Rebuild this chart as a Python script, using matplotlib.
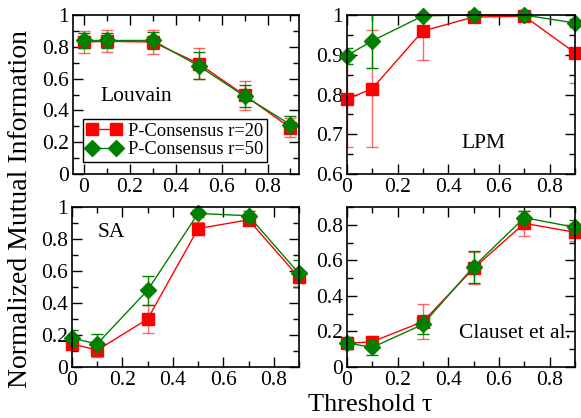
import matplotlib
matplotlib.use("Agg")
import matplotlib.pyplot as plt
from matplotlib.ticker import MultipleLocator, FormatStrFormatter

plt.rcParams['font.family'] = ['Liberation Serif', 'DejaVu Serif']

tau = [0, 0.1, 0.3, 0.5, 0.7, 0.9]

# Louvain
louv_r20 = [0.83, 0.835, 0.83, 0.695, 0.495, 0.29]
louv_r20_err = [0.07, 0.068, 0.075, 0.095, 0.09, 0.06]
louv_r50 = [0.84, 0.84, 0.84, 0.68, 0.49, 0.31]
louv_r50_err = [0.05, 0.05, 0.055, 0.085, 0.07, 0.055]

# LPM
lpm_r20 = [0.788, 0.815, 0.96, 0.995, 0.997, 0.905]
lpm_r20_err = [0.12, 0.148, 0.073, 0.01, 0.01, 0.075]
lpm_r50 = [0.898, 0.935, 0.998, 1.0, 1.0, 0.98]
lpm_r50_err = [0.02, 0.067, 0.005, 0.003, 0.003, 0.01]

# SA
sa_r20 = [0.145, 0.105, 0.30, 0.865, 0.92, 0.56]
sa_r20_err = [0.04, 0.04, 0.085, 0.04, 0.03, 0.06]
sa_r50 = [0.18, 0.145, 0.48, 0.96, 0.945, 0.585]
sa_r50_err = [0.05, 0.06, 0.09, 0.02, 0.03, 0.085]

# Clauset et al.
cl_r20 = [0.133, 0.142, 0.255, 0.555, 0.808, 0.758]
cl_r20_err = [0.03, 0.035, 0.1, 0.09, 0.07, 0.05]
cl_r50 = [0.136, 0.11, 0.24, 0.564, 0.84, 0.786]
cl_r50_err = [0.03, 0.04, 0.055, 0.09, 0.04, 0.04]

RED = '#ff0000'
GREEN = '#008000'

fig = plt.figure(figsize=(5.81, 4.18), dpi=100)

def make_ax(rect, xlim, ylim, ymaj, ymin):
    ax = fig.add_axes(rect)
    ax.set_xlim(*xlim)
    ax.set_ylim(*ylim)
    ax.xaxis.set_major_locator(MultipleLocator(0.2))
    ax.xaxis.set_minor_locator(MultipleLocator(0.1))
    ax.yaxis.set_major_locator(MultipleLocator(ymaj))
    ax.yaxis.set_minor_locator(MultipleLocator(ymin))
    ax.xaxis.set_major_formatter(FormatStrFormatter('%g'))
    ax.yaxis.set_major_formatter(FormatStrFormatter('%g'))
    ax.tick_params(which='both', direction='in', top=True, right=True,
                   labelsize=15.5, width=1, pad=3)
    ax.tick_params(which='major', length=7)
    ax.tick_params(which='minor', length=4)
    for s in ax.spines.values():
        s.set_linewidth(1.2)
    return ax

def draw(ax, y20, e20, y50, e50):
    ax.errorbar(tau, y20, yerr=e20, fmt='none', ecolor=RED, elinewidth=1,
                capsize=4, capthick=1, alpha=0.6)
    l1, = ax.plot(tau, y20, color=RED, lw=1, marker='s', ms=9, mec=RED,
                  clip_on=False, label='P-Consensus r=20')
    ax.errorbar(tau, y50, yerr=e50, fmt='none', ecolor=GREEN, elinewidth=1,
                capsize=4, capthick=1)
    l2, = ax.plot(tau, y50, color=GREEN, lw=1, marker='D', ms=8, mec=GREEN,
                  clip_on=False, label='P-Consensus r=50')
    return l1, l2

ax1 = make_ax([0.1256, 0.5837, 0.389, 0.3803], (-0.048, 0.937), (0, 1), 0.2, 0.1)
ax2 = make_ax([0.597, 0.5837, 0.3927, 0.3803], (0, 0.9), (0.6, 1), 0.1, 0.05)
ax3 = make_ax([0.1239, 0.122, 0.3907, 0.3828], (0, 0.9), (0, 1), 0.2, 0.1)
ax4 = make_ax([0.597, 0.122, 0.3927, 0.3828], (0, 0.9), (0, 0.9), 0.2, 0.1)

h = draw(ax1, louv_r20, louv_r20_err, louv_r50, louv_r50_err)
draw(ax2, lpm_r20, lpm_r20_err, lpm_r50, lpm_r50_err)
draw(ax3, sa_r20, sa_r20_err, sa_r50, sa_r50_err)
draw(ax4, cl_r20, cl_r20_err, cl_r50, cl_r50_err)

leg = ax1.legend(handles=h, loc='lower left', bbox_to_anchor=(0.043, 0.075),
                 fontsize=13.3, numpoints=2, handlelength=1.9, fancybox=False,
                 framealpha=1, edgecolor='black', borderpad=0.2,
                 labelspacing=0.1, handletextpad=0.35, borderaxespad=0)
leg.get_frame().set_linewidth(1)

ax1.text(0.07, 0.485, 'Louvain', fontsize=15.5, va='center', ha='left')
ax2.text(0.54, 0.678, 'LPM', fontsize=15.5, va='center', ha='center')
ax3.text(0.1, 0.84, 'SA', fontsize=15.5, va='center', ha='left')
ax4.text(0.885, 0.186, 'Clauset et al.', fontsize=15.5, va='center', ha='right')

fig.text(0.035, 0.5, 'Normalized Mutual Information', rotation=90,
         fontsize=20, ha='center', va='center')
fig.text(0.638, 0.03, 'Threshold \u03c4', fontsize=19, ha='center', va='center')

fig.savefig('out.png', dpi=100)
